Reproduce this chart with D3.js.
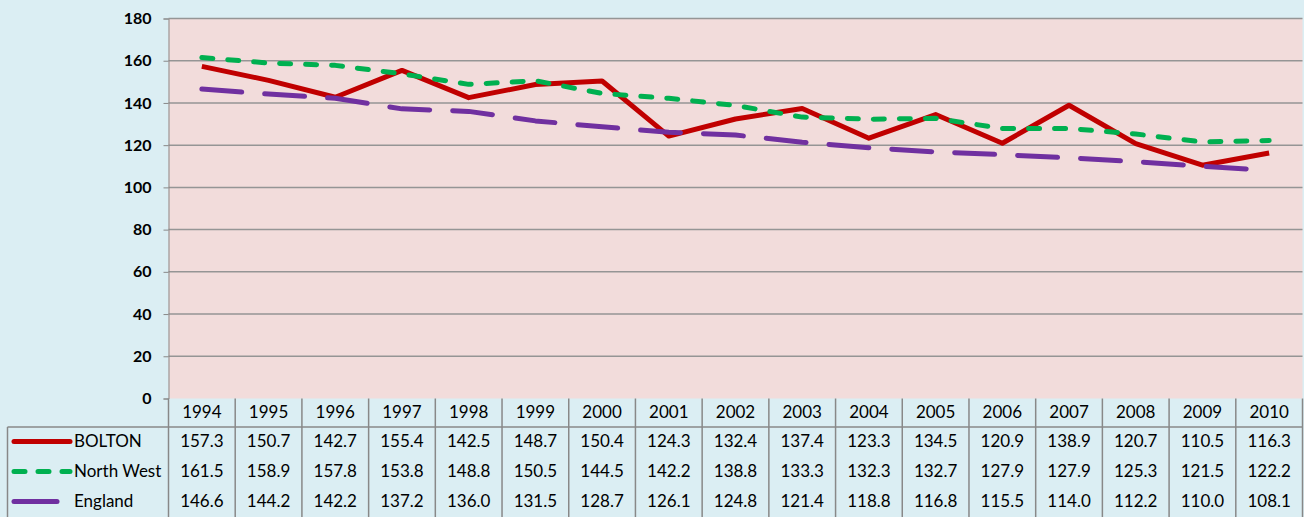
<!DOCTYPE html>
<html><head><meta charset="utf-8">
<script src="https://cdn.jsdelivr.net/npm/d3@7"></script>
<style>body{margin:0;background:#DBEEF3;}svg{display:block;}</style>
</head><body><svg id="c" width="1304" height="517"></svg>
<script>
const years = ["1994","1995","1996","1997","1998","1999","2000","2001","2002","2003","2004","2005","2006","2007","2008","2009","2010"];
const bolton = [157.3,150.7,142.7,155.4,142.5,148.7,150.4,124.3,132.4,137.4,123.3,134.5,120.9,138.9,120.7,110.5,116.3];
const northWest = [161.5,158.9,157.8,153.8,148.8,150.5,144.5,142.2,138.8,133.3,132.3,132.7,127.9,127.9,125.3,121.5,122.2];
const england = [146.6,144.2,142.2,137.2,136.0,131.5,128.7,126.1,124.8,121.4,118.8,116.8,115.5,114.0,112.2,110.0,108.1];
const yTicks = [0,20,40,60,80,100,120,140,160,180];

const series = [
  {name:"BOLTON", values:bolton, color:"#C00000", dash:null, keyEnd:70},
  {name:"North West", values:northWest, color:"#00B050", dash:"11,15", keyEnd:70},
  {name:"England", values:england, color:"#7030A0", dash:"40,23", keyEnd:57}
];

const svg = d3.select("#c");
const pLeft = 168.5, pRight = 1302.5, pTop = 18.5, pBottom = 398.5;
const font = "Lato, 'Open Sans', sans-serif";

svg.append("rect").attr("width",1304).attr("height",517).attr("fill","#DBEEF3");
svg.append("rect").attr("x",pLeft).attr("y",pTop).attr("width",pRight-pLeft).attr("height",pBottom-pTop).attr("fill","#F2DCDB");

const x = d3.scaleBand().domain(years).range([pLeft,pRight]);
const y = d3.scaleLinear().domain([0,180]).range([pBottom,pTop]);

svg.append("g").selectAll("line").data(yTicks.filter(d=>d>0)).join("line")
  .attr("x1",pLeft).attr("x2",pRight).attr("y1",d=>y(d)).attr("y2",d=>y(d))
  .attr("stroke","#959595").attr("stroke-width",1.5);

const yAxis = svg.append("g").attr("transform",`translate(${pLeft},0)`)
  .call(d3.axisLeft(y).tickValues(yTicks).tickSize(5).tickPadding(12));
yAxis.select(".domain").attr("stroke","#888");
yAxis.selectAll(".tick line").attr("stroke","#888");
yAxis.selectAll("text").attr("font-family",font).attr("font-weight","bold").attr("font-size","16px").attr("fill","#000");

const line = d3.line().x((d,i)=>x(years[i])+x.bandwidth()/2).y(d=>y(d));
series.forEach(s=>{
  svg.append("path").datum(s.values).attr("d",line).attr("fill","none")
    .attr("stroke",s.color).attr("stroke-width",5)
    .attr("stroke-linecap", s.dash ? "round" : "butt").attr("stroke-linejoin","round")
    .attr("stroke-dasharray",s.dash);
});

const rowH = 30;
const tableTop = pBottom;
const tg = svg.append("g");
const tSize = "17px";
years.forEach(yr=>{
  tg.append("text").attr("x",x(yr)+x.bandwidth()/2).attr("y",tableTop+rowH/2)
    .attr("text-anchor","middle").attr("dominant-baseline","middle")
    .attr("font-family",font).attr("font-size",tSize).attr("fill","#000").text(yr);
});
const borderColor = "#888";
[...years.map(yr=>x(yr)), pRight].forEach(xx=>{
  tg.append("line").attr("x1",xx).attr("x2",xx).attr("y1",tableTop).attr("y2",517)
    .attr("stroke",borderColor).attr("stroke-width",1.5);
});
tg.append("line").attr("x1",7.5).attr("x2",pRight).attr("y1",tableTop+28.5).attr("y2",tableTop+28.5)
  .attr("stroke",borderColor).attr("stroke-width",1.5);
tg.append("line").attr("x1",7.5).attr("x2",7.5).attr("y1",tableTop+28.5).attr("y2",517)
  .attr("stroke",borderColor).attr("stroke-width",1.5);

series.forEach((s,ri)=>{
  const cy = tableTop + 28 + 16 + ri*rowH;
  s.values.forEach((v,i)=>{
    tg.append("text").attr("x",x(years[i])+x.bandwidth()/2).attr("y",cy)
      .attr("text-anchor","middle").attr("dominant-baseline","middle")
      .attr("font-family",font).attr("font-size",tSize).attr("fill","#000").text(v.toFixed(1));
  });
  tg.append("line").attr("x1",14).attr("x2",s.keyEnd).attr("y1",cy-1).attr("y2",cy-1)
    .attr("stroke",s.color).attr("stroke-width",5).attr("stroke-linecap","round")
    .attr("stroke-dasharray", s.name==="North West" ? "11,13" : null);
  tg.append("text").attr("x",74).attr("y",cy).attr("dominant-baseline","middle")
    .attr("font-family",font).attr("font-size",tSize).attr("fill","#000").text(s.name);
});
</script></body></html>
